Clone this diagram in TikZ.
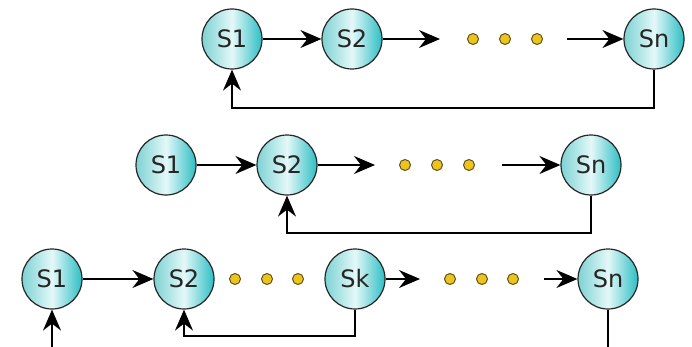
\documentclass[tikz,border=0pt]{standalone}
\usepackage{fontspec}
\setmainfont{DejaVu Sans}
\usetikzlibrary{arrows.meta}
\definecolor{stateL}{RGB}{125,210,212}
\definecolor{stateM}{RGB}{228,248,248}
\definecolor{stateR}{RGB}{45,190,196}
\definecolor{dotfill}{RGB}{236,196,30}
\definecolor{dotdraw}{RGB}{100,80,20}
\begin{document}
\begin{tikzpicture}
	[x=1pt, y=1pt,
	state/.style ={circle, draw=black!85, line width=1.2pt, left color=stateL, right color=stateR, middle color=stateM, minimum size=60pt, inner sep=0pt, text=black!85, font=\fontsize{24}{24}\selectfont},
	dot/.style ={circle, draw=dotdraw, line width=1pt, fill=dotfill, minimum size=11pt, inner sep=0pt},
	line/.style ={draw, line width=1.6pt, -{Stealth[length=21pt, width=18pt, inset=7pt]}}]
	\clip (0,0) rectangle (692,346);
	% top row
	\draw (232,307) node[state] (t1) {S1};
	\draw (352,307) node[state] (t2) {S2};
	\draw (654,307) node[state] (tn) {Sn};
	\coordinate (t2e) at (440,307);
	\coordinate (tns) at (567,307);
	\coordinate (tf) at (0,238);
	\draw (473,307) node[dot] (td1) {};
	\draw (505,307) node[dot] (td2) {};
	\draw (537,307) node[dot] (td3) {};
	\draw[line] (t1) -- (t2);
	\draw[line] (t2) -- (t2e);
	\draw[line] (tns) -- (tn);
	\draw[line] (tn.south) |- (t1 |- tf) -- (t1.south);
	% middle row
	\draw (166,181) node[state] (m1) {S1};
	\draw (287,181) node[state] (m2) {S2};
	\draw (591,181) node[state] (mn) {Sn};
	\coordinate (m2e) at (375,181);
	\coordinate (mns) at (502,181);
	\coordinate (mf) at (0,113);
	\draw (405,181) node[dot] (md1) {};
	\draw (437,181) node[dot] (md2) {};
	\draw (469,181) node[dot] (md3) {};
	\draw[line] (m1) -- (m2);
	\draw[line] (m2) -- (m2e);
	\draw[line] (mns) -- (mn);
	\draw[line] (mn.south) |- (m2 |- mf) -- (m2.south);
	% bottom row
	\draw (52,67) node[state] (b1) {S1};
	\draw (184,67) node[state] (b2) {S2};
	\draw (355,67) node[state] (bk) {Sk};
	\draw (608,67) node[state] (bn) {Sn};
	\coordinate (bke) at (420,67);
	\coordinate (bns) at (544,67);
	\coordinate (bf) at (0,10);
	\coordinate (bg) at (0,-30);
	\draw (235,67) node[dot] (bd1) {};
	\draw (267,67) node[dot] (bd2) {};
	\draw (298,67) node[dot] (bd3) {};
	\draw (450,67) node[dot] (bd4) {};
	\draw (482,67) node[dot] (bd5) {};
	\draw (513,67) node[dot] (bd6) {};
	\draw[line] (b1) -- (b2);
	\draw[line] (bk) -- (bke);
	\draw[line] (bns) -- (bn);
	\draw[line] (bk.south) |- (b2 |- bf) -- (b2.south);
	\draw[line] (bn.south) |- (b1 |- bg) -- (b1.south);
\end{tikzpicture}
\end{document}
